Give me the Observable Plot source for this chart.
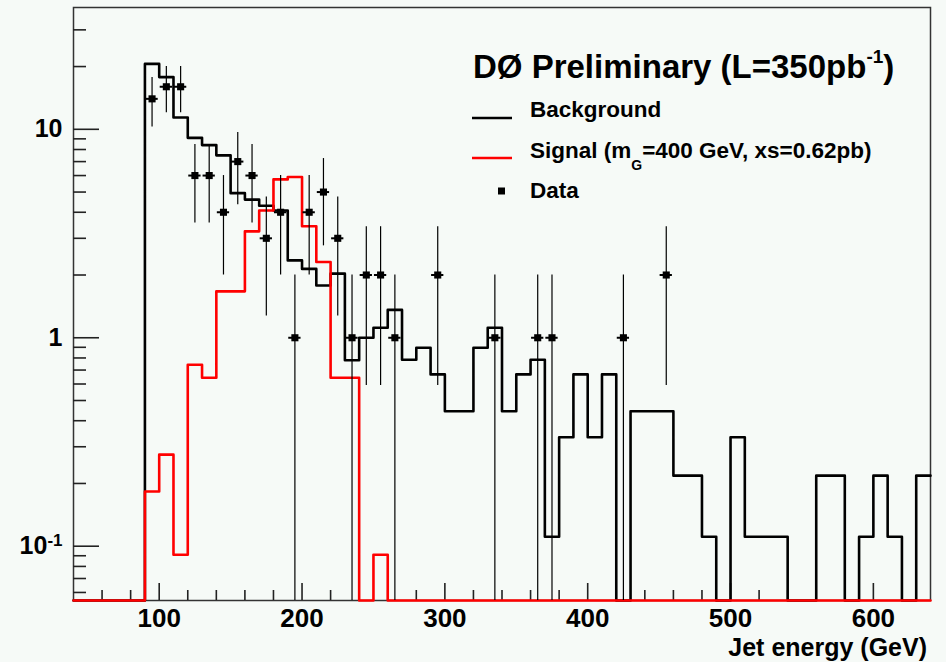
<!DOCTYPE html>
<html><head><meta charset="utf-8">
<script src="https://cdn.jsdelivr.net/npm/d3@7"></script>
<script src="https://cdn.jsdelivr.net/npm/@observablehq/plot@0.6"></script>
<style>
html,body{margin:0;padding:0;background:#f6faf7;}
#chart{width:946px;height:662px;position:relative;overflow:hidden;background:#f6faf7;}
</style></head><body><div id="chart"></div>
<script>
// ---- data ----
const binLow = [40,50,60,70,80,90,100,110,120,130,140,150,160,170,180,190,200,210,220,230,
  240,250,260,270,280,290,300,310,320,330,340,350,360,370,380,390,400,410,420,430,
  440,450,460,470,480,490,500,510,520,530,540,550,560,570,580,590,600,610,620,630];
const histEnd = 640;
const background = [0,0,0,0,0,20.6,17.8,11.4,9.1,8.4,7.5,4.94,4.6,4.3,4.08,2.35,2.14,1.78,2.03,0.78,
  1.0,1.117,1.36,0.784,0.895,0.667,0.444,0.444,0.895,1.117,0.444,0.667,0.784,0.111,0.333,0.667,0.333,0.667,0,0.444,
  0.444,0.444,0.218,0.218,0.111,0,0.333,0.111,0.111,0.111,0,0,0.218,0.218,0,0.111,0.218,0.111,0,0.218];
const signal = [0,0,0,0,0,0.183,0.275,0.091,0.742,0.643,1.67,1.67,3.24,4.08,5.75,5.9,3.43,2.31,0.643,0.643,
  0,0.091,0,0,0,0,0,0,0,0,0,0,0,0,0,0,0,0,0,0,
  0,0,0,0,0,0,0,0,0,0,0,0,0,0,0,0,0,0,0,0];
const dataX = [95,105,115,125,135,145,155,165,175,185,195,205,215,225,235,245,255,265,295,335,365,375,425,455];
const dataCount = [14,16,16,6,6,4,7,6,3,4,1,4,5,3,1,2,2,1,2,1,1,1,1,2];
const dataErr = [3.74,4,4,2.45,2.45,2,2.65,2.45,1.73,2,1,2,2.24,1.73,1,1.41,1.41,1,1.41,1,1,1,1,1.41];
const xMajorTicks = [100,200,300,400,500,600];
const xMinorTicks = [60,80,120,140,160,180,220,240,260,280,320,340,360,380,420,440,460,480,520,540,560,580,620];
const yMajorTicks = [0.1,1,10];
const yMinorTicks = [0.06,0.07,0.08,0.09,0.2,0.3,0.4,0.5,0.6,0.7,0.8,0.9,2,3,4,5,6,7,8,9,20,30];
const xDomain = [40,640];
const yDomain = [0.0549,38.4];
const titleText = "DØ Preliminary (L=350pb";
const xLabel = "Jet energy (GeV)";

// ---- build ----
const FONT = "'Liberation Sans', Arial, Helvetica, sans-serif";
const W = 946, H = 662, ML = 73, MR = 16, MT = 7, MB = 62;
const PW = W - ML - MR, PH = H - MT - MB;
const floor = yDomain[0];
const yv = v => v > 0 ? v : floor;

const bgData = binLow.map((x,i)=>({x, v: background[i]})).concat([{x: histEnd, v: background[background.length-1]}]);
const sgData = binLow.map((x,i)=>({x, v: signal[i]})).concat([{x: histEnd, v: signal[signal.length-1]}]);
const pts = dataX.map((x,i)=>({x, v: dataCount[i], e: dataErr[i]}));

const plot = Plot.plot({
  width: W, height: H,
  marginLeft: ML, marginRight: MR, marginTop: MT, marginBottom: MB,
  style: {background: "transparent", fontFamily: FONT, color: "#000", overflow: "visible"},
  x: {domain: xDomain},
  y: {type: "log", domain: yDomain},
  marks: [
    Plot.frame({stroke: "#333", strokeWidth: 1.5}),
    Plot.tickY(yMajorTicks, {y: d=>d, insetRight: PW - 26, stroke: "#222", strokeWidth: 1.6}),
    Plot.tickY(yMinorTicks, {y: d=>d, insetRight: PW - 13, stroke: "#222", strokeWidth: 1.6}),
    Plot.tickX(xMajorTicks, {x: d=>d, insetTop: PH - 17, stroke: "#222", strokeWidth: 1.6}),
    Plot.tickX(xMinorTicks, {x: d=>d, insetTop: PH - 10, stroke: "#222", strokeWidth: 1.6}),
    Plot.axisX({ticks: xMajorTicks, tickSize: 0, tickPadding: 8, fontSize: 26, fontWeight: "bold", label: null, tickFormat: d=>String(d)}),
    Plot.axisY({ticks: yMajorTicks, tickSize: 0, tickPadding: 11, fontSize: 25, fontWeight: "bold", label: null,
      tickFormat: d => d === 0.1 ? "10^-1" : String(d)}),
    Plot.line(bgData, {x: "x", y: d=>yv(d.v), curve: "step-after", stroke: "#000", strokeWidth: 2.6}),
    Plot.line(sgData, {x: "x", y: d=>yv(d.v), curve: "step-after", stroke: "#ff0000", strokeWidth: 2.6}),
    Plot.ruleX(pts, {x: "x", y1: d=>yv(d.v - d.e), y2: d=>d.v + d.e, stroke: "#000", strokeWidth: 1.2}),
    Plot.ruleY(pts, {y: "v", x1: d=>d.x - 4.3, x2: d=>d.x + 4.3, stroke: "#000", strokeWidth: 2}),
    Plot.dot(pts, {x: "x", y: "v", symbol: "square", r: 4, fill: "#000", stroke: null})
  ]
});
document.getElementById("chart").appendChild(plot);

// superscript on 10^-1 tick label
plot.querySelectorAll('[aria-label="y-axis tick label"] text').forEach(t => {
  if (t.textContent === "10^-1") {
    t.textContent = "";
    const s = d3.select(t);
    s.append("tspan").text("10");
    s.append("tspan").attr("dy", "-0.5em").attr("font-size", 17).text("-1");
  }
});

const svg = d3.select(plot);
const g = svg.append("g").attr("font-family", FONT).attr("font-weight", "bold").attr("fill", "#000").attr("text-anchor", "start");
// title
const tt = g.append("text").attr("x", 473).attr("y", 78).attr("font-size", 33);
tt.append("tspan").text(titleText);
tt.append("tspan").attr("dy", -15).attr("font-size", 19).text("-1");
tt.append("tspan").attr("dy", 15).text(")");
// legend
g.append("line").attr("x1", 472).attr("x2", 512).attr("y1", 118).attr("y2", 118).attr("stroke", "#000").attr("stroke-width", 2.6);
g.append("text").attr("x", 530).attr("y", 117).attr("font-size", 22.5).text("Background");
g.append("line").attr("x1", 472).attr("x2", 512).attr("y1", 158).attr("y2", 158).attr("stroke", "#ff0000").attr("stroke-width", 2.6);
const st = g.append("text").attr("x", 530).attr("y", 158).attr("font-size", 22.5);
st.append("tspan").text("Signal (m");
st.append("tspan").attr("dy", 12).attr("font-size", 14).text("G");
st.append("tspan").attr("dy", -12).text("=400 GeV, xs=0.62pb)");
g.append("rect").attr("x", 498).attr("y", 187.5).attr("width", 7).attr("height", 7).attr("fill", "#000");
g.append("text").attr("x", 530).attr("y", 198).attr("font-size", 22.5).text("Data");
// x label
g.append("text").attr("x", 927).attr("y", 656).attr("text-anchor", "end").attr("font-size", 25).text(xLabel);
</script>
</body></html>
